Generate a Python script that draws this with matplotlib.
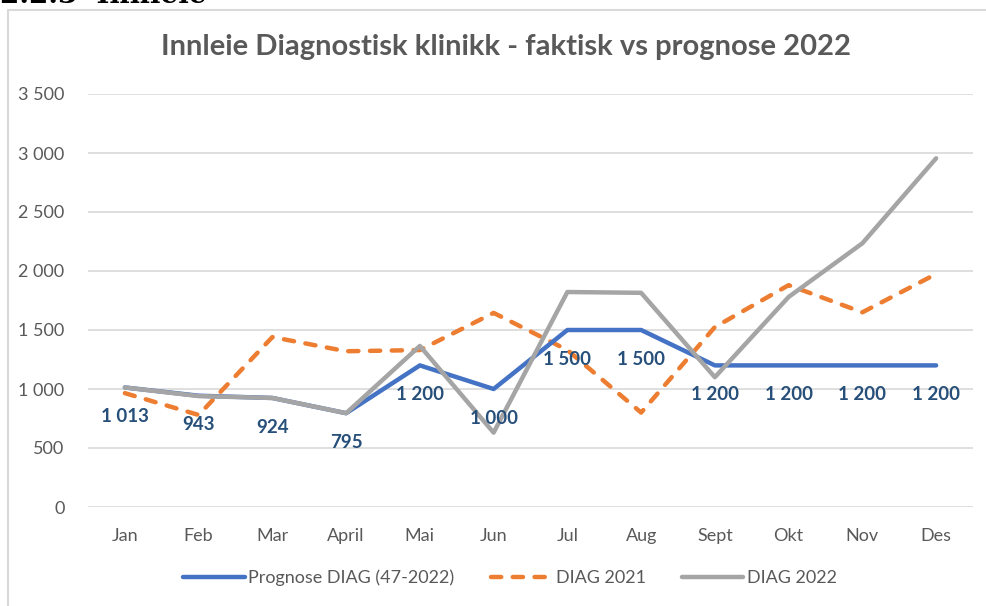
import matplotlib
matplotlib.use("Agg")
import matplotlib.pyplot as plt
from matplotlib.patches import Rectangle
from matplotlib.ticker import FuncFormatter
import numpy as np

# data
months = ["Jan", "Feb", "Mar", "April", "Mai", "Jun", "Jul", "Aug", "Sept", "Okt", "Nov", "Des"]
prognose = [1013, 943, 924, 795, 1200, 1000, 1500, 1500, 1200, 1200, 1200, 1200]
diag_2021 = [965, 780, 1440, 1320, 1330, 1645, 1330, 800, 1525, 1880, 1650, 1975]
diag_2022 = [1013, 940, 924, 795, 1365, 630, 1822, 1815, 1100, 1780, 2235, 2955]

BLUE = "#4472C4"
ORANGE = "#ED7D31"
GRAY = "#A5A5A5"
TEXT = "#595959"
LABEL = "#264F7A"

plt.rcParams["font.family"] = ["Lato", "DejaVu Sans"]

W, H = 986, 606
fig = plt.figure(figsize=(W / 100, H / 100), dpi=100)
fig.patch.set_facecolor("white")

# chart area border (extends past right/bottom edge like the screenshot)
fig.patches.append(Rectangle((8 / W, -0.1), 1.2, (H - 10) / H + 0.1,
                             transform=fig.transFigure, fill=False,
                             edgecolor="#D9D9D9", linewidth=1.5))

# cut-off section heading above the chart
fig.text(0.0, 1 - 3 / H, "2.2.3  Innleie", family="DejaVu Serif",
         fontweight="bold", fontsize=20, va="baseline", ha="left", color="black")

ax = fig.add_axes([88 / W, 1 - 507 / H, (973 - 88) / W, (507 - 94) / H])
x = np.arange(len(months))

ax.plot(x, prognose, color=BLUE, lw=3.2, solid_capstyle="round",
        solid_joinstyle="round", label="Prognose DIAG (47-2022)", zorder=3)
ax.plot(x, diag_2021, color=ORANGE, lw=3.2, ls=(0, (2.3, 2.6)),
        dash_capstyle="round", label="DIAG 2021", zorder=2)
ax.plot(x, diag_2022, color=GRAY, lw=3.2, solid_capstyle="round",
        solid_joinstyle="round", label="DIAG 2022", zorder=4)

# data labels under the prognosis line
for xi, v in zip(x, prognose):
    ax.annotate(f"{v:,}".replace(",", " "), (xi, v), xytext=(0, -21),
                textcoords="offset points", ha="center", va="center",
                fontsize=13.5, fontweight="bold", color=LABEL, zorder=5)

ax.set_xlim(-0.5, 11.5)
ax.set_ylim(0, 3500)
ax.set_yticks(np.arange(0, 3501, 500))
ax.yaxis.set_major_formatter(FuncFormatter(lambda v, p: f"{int(v):,}".replace(",", " ")))
ax.set_xticks(x)
ax.set_xticklabels(months)
ax.tick_params(axis="both", length=0, labelsize=13, labelcolor=TEXT)
ax.tick_params(axis="y", pad=17)
ax.tick_params(axis="x", pad=15)
ax.grid(axis="y", color="#D9D9D9", lw=1.2)
ax.set_axisbelow(True)
for s in ax.spines.values():
    s.set_visible(False)

fig.text(506 / W, 1 - 47 / H, "Innleie Diagnostisk klinikk - faktisk vs prognose 2022",
         ha="center", va="center", fontsize=21, fontweight="bold", color=TEXT)

fig.legend(loc="center", bbox_to_anchor=(510 / W, 1 - 578 / H), ncol=3, frameon=False,
           fontsize=13, labelcolor=TEXT, handlelength=3.4, handletextpad=0.2,
           columnspacing=2.0)

fig.savefig("out.png", dpi=100)
